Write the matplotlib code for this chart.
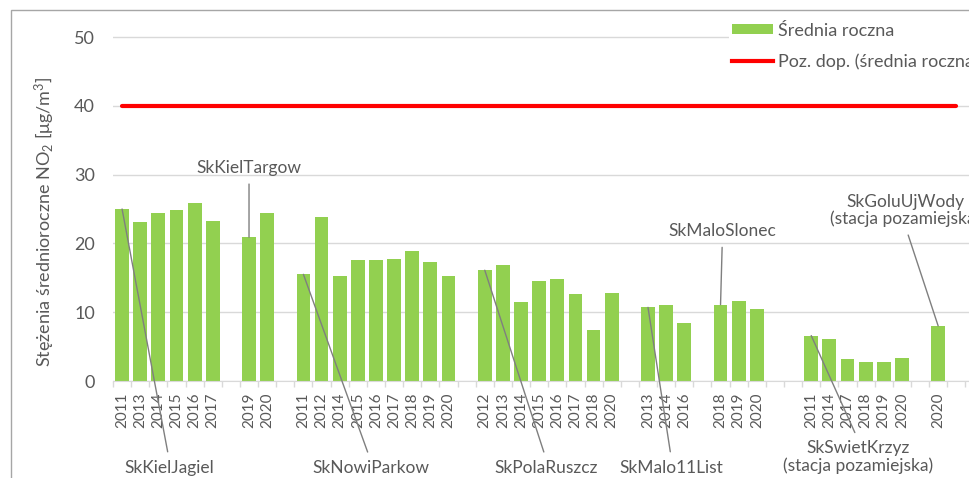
import numpy as np
import matplotlib
matplotlib.use("Agg")
from matplotlib import pyplot as plt
from matplotlib.patches import Patch, Rectangle
from matplotlib.lines import Line2D

plt.rcParams["font.family"] = ["Lato", "DejaVu Sans"]
plt.rcParams["mathtext.default"] = "regular"

# categories (blank entries are the empty slots between stations)
years = ["2011", "2013", "2014", "2015", "2016", "2017", "",
         "2019", "2020", "",
         "2011", "2012", "2014", "2015", "2016", "2017", "2018", "2019", "2020", "",
         "2012", "2013", "2014", "2015", "2016", "2017", "2018", "2020", "",
         "2013", "2014", "2016", "",
         "2018", "2019", "2020", "", "",
         "2011", "2014", "2017", "2018", "2019", "2020", "",
         "2020", ""]
no2 = [25.0, 23.1, 24.4, 24.8, 25.8, 23.2, np.nan,
       20.9, 24.4, np.nan,
       15.5, 23.9, 15.3, 17.6, 17.6, 17.7, 18.9, 17.3, 15.2, np.nan,
       16.1, 16.8, 11.5, 14.6, 14.8, 12.7, 7.4, 12.8, np.nan,
       10.7, 11.0, 8.4, np.nan,
       11.1, 11.7, 10.4, np.nan, np.nan,
       6.6, 6.1, 3.2, 2.7, 2.7, 3.4, np.nan,
       8.0, np.nan]
limit = 40

# station callouts: label, category index of the bar it points at
stations = ["SkKielJagiel", "SkKielTargow", "SkNowiParkow", "SkPolaRuszcz",
            "SkMalo11List", "SkMaloSlonec", "SkSwietKrzyz\n(stacja pozamiejska)",
            "SkGoluUjWody\n(stacja pozamiejska)"]
station_bar = [0, 7, 10, 20, 29, 33, 38, 45]
# text position (x in category units, y in data units)
station_text = [(2.6, -12.65), (7.0, 31.0), (13.7, -12.65), (23.4, -12.65),
                (30.3, -12.65), (33.1, 21.8), (40.6, -11.05), (43.2, 24.8)]

W, H = 969, 478
green = "#92D050"
txt = "#595959"
grid = "#D9D9D9"

fig = plt.figure(figsize=(W / 100, H / 100), dpi=100)
ax = fig.add_axes([113 / W, (H - 381) / H, (W - 113) / W, 6.88 * 52 / H])

x = np.arange(len(years))
ax.bar(x, no2, width=0.76, color=green, zorder=2)
ax.plot(x, [limit] * len(x), color="#FF0000", lw=3, solid_capstyle="round", zorder=3)

ax.set_xlim(-0.5, 46.7)
ax.set_ylim(0, 52)
ax.set_yticks([0, 10, 20, 30, 40, 50])
ax.yaxis.grid(True, color=grid, lw=1, zorder=0)
ax.set_axisbelow(True)
for s in ["top", "right", "left"]:
    ax.spines[s].set_visible(False)
ax.spines["bottom"].set_color(grid)
ax.tick_params(axis="y", length=0, pad=13, labelsize=13, labelcolor=txt)

ax.set_xticks(x)
ax.set_xticklabels(years, rotation=90)
ax.tick_params(axis="x", which="major", length=0, pad=8, labelsize=11, labelcolor=txt)
ax.set_xticks(np.arange(-0.5, len(x)), minor=True)
ax.tick_params(axis="x", which="minor", length=4, color=grid, width=1)

for name, i, (tx, ty) in zip(stations, station_bar, station_text):
    below = ty < 0
    ax.annotate(name, xy=(i, no2[i]), xytext=(tx, ty), textcoords="data",
                ha="center", va="center", fontsize=12.5, color=txt,
                linespacing=1.05, annotation_clip=False, zorder=4,
                arrowprops=dict(arrowstyle="-", color="#7F7F7F", lw=1,
                                relpos=(0.5, 1.0) if below else (0.5, 0.0),
                                shrinkA=4, shrinkB=0))

fig.text(45 / W, 1 - 222 / H, "Stężenia średnioroczne NO$_2$ [μg/m$^3$]",
         rotation=90, ha="center", va="center", fontsize=13, color=txt)

handles = [Patch(facecolor=green, edgecolor="none"),
           Line2D([], [], color="#FF0000", lw=3)]
fig.legend(handles, ["Średnia roczna", "Poz. dop. (średnia roczna)"],
           loc="upper left", bbox_to_anchor=(720 / W, 1 - 11 / H),
           frameon=True, facecolor="white", edgecolor="none", framealpha=1,
           fancybox=False, fontsize=13, labelcolor=txt, handlelength=2.3,
           handleheight=0.45, handletextpad=0.28, labelspacing=0.8, borderpad=0.15)

fig.add_artist(Rectangle((10.5 / W, -0.1), 2, 1.1 - 10.5 / H, transform=fig.transFigure,
                         fill=False, ec="#A6A6A6", lw=1))

plt.savefig("out.png", dpi=100)
